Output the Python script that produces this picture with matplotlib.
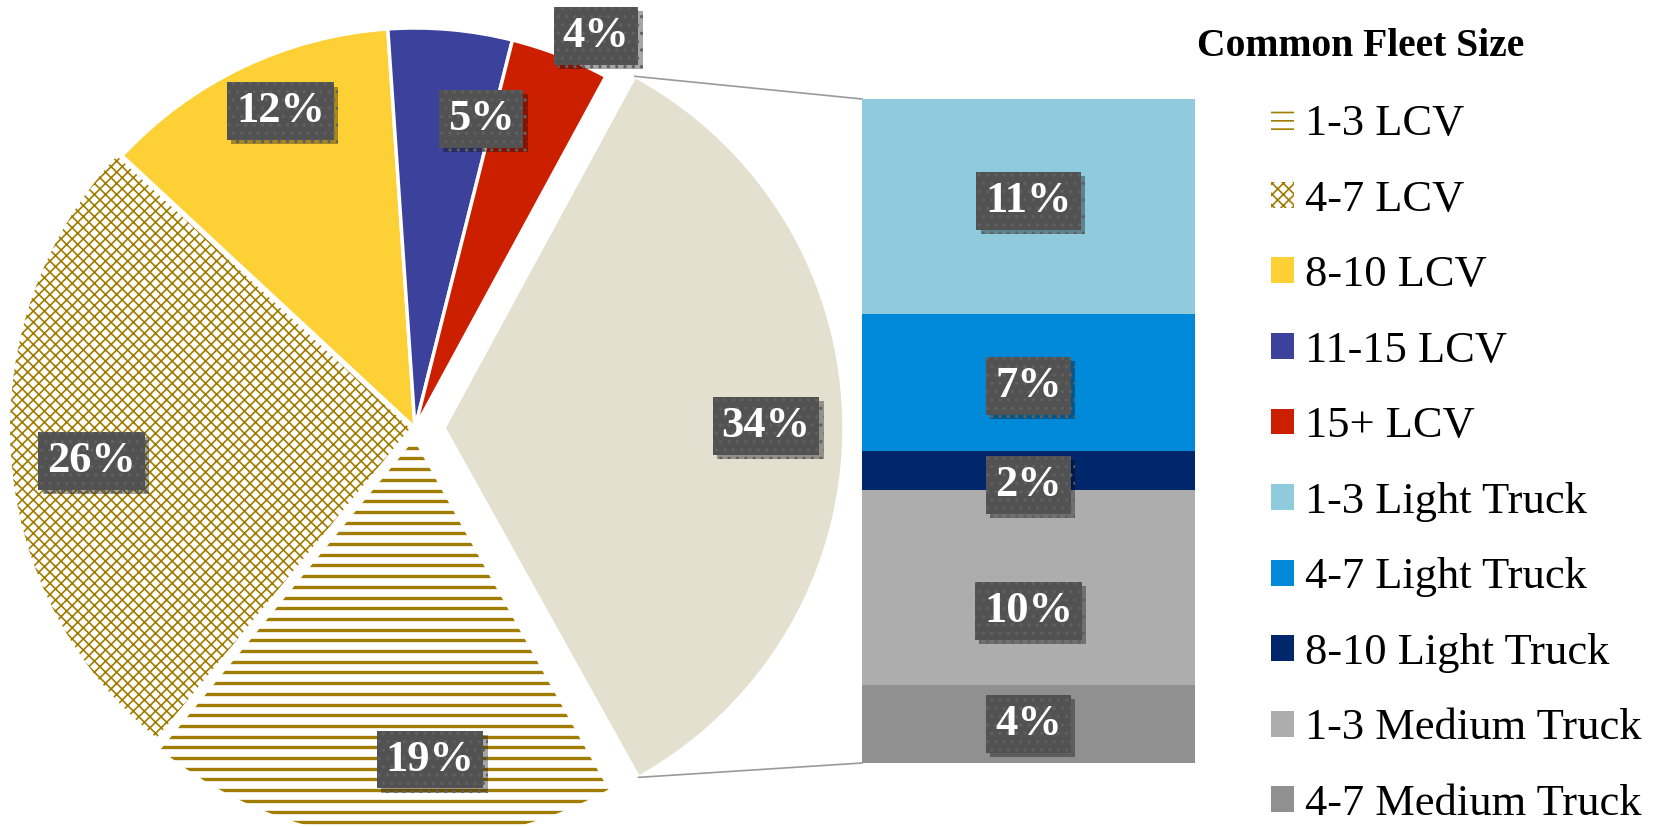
import matplotlib.pyplot as plt
import matplotlib.patheffects as pe
from matplotlib.patches import Patch
import numpy as np

# размер картинки в пикселях
W, H = 1657, 827

plt.rcParams['font.family'] = ['Liberation Serif', 'DejaVu Serif']
plt.rcParams['hatch.linewidth'] = 1.2

# pie part
pie_labels = ['1-3 LCV', '4-7 LCV', '8-10 LCV', '11-15 LCV', '15+ LCV', 'Other']
pie_values = [19, 26, 12, 5, 4, 34]
pie_colors = ['#ffffff', '#ffffff', '#FDD035', '#3C429C', '#CC1F00', '#E3E0D0']

# bar part (split of "Other")
bar_labels = ['1-3 Light Truck', '4-7 Light Truck', '8-10 Light Truck',
              '1-3 Medium Truck', '4-7 Medium Truck']
bar_values = [11, 7, 2, 10, 4]
bar_colors = ['#8FCBDD', '#0089D8', '#00266C', '#ADADAD', '#909090']

OLIVE = '#A07D00'
BOX = '#525252'


def tag(axis, x, y, s):
    """серый прямоугольник с процентами"""
    t = axis.text(x, y, s, ha='center', va='center', color='white',
                  fontsize=32, fontweight='bold', zorder=6, clip_on=False,
                  bbox=dict(boxstyle='square,pad=0.2', facecolor=BOX,
                            edgecolor='#606060', linewidth=0, hatch='..'))
    t.get_bbox_patch().set_path_effects(
        [pe.withSimplePatchShadow(offset=(3, -3), shadow_rgbFace='black', alpha=0.35)])
    return t


fig = plt.figure(figsize=(W / 100, H / 100), dpi=100)
ax = fig.add_axes([0, 0, 1, 1])

wedges, _ = ax.pie(pie_values, colors=pie_colors, startangle=-60.9, counterclock=False,
                   center=(415, 399), radius=400,
                   wedgeprops=dict(edgecolor='white', linewidth=2.5))
ax.set_xlim(0, W)
ax.set_ylim(0, H)
ax.axis('off')

# slightly pulled out slices (px)
offsets = [12, 5, 0, 0, 0, 29]
for w, off in zip(wedges, offsets):
    mid = np.deg2rad((w.theta1 + w.theta2) / 2)
    cx, cy = w.center
    w.set_center((cx + off * np.cos(mid), cy + off * np.sin(mid)))

# 1-3 LCV: horizontal stripes
w0 = wedges[0]
w0.set_edgecolor('white')
ys = np.arange(379.3 % 10.7, H, 10.7)
stripes = ax.hlines(ys, 0, W, colors=OLIVE, linewidth=2.4)
stripes.set_clip_path(w0)

# 4-7 LCV: woven pattern
w1 = wedges[1]
w1.set_edgecolor(OLIVE)
w1.set_linewidth(0)
w1.set_hatch('xxx')

# labels on the pie
label_frac = [0.80, 0.80, 0.86, 0.79, 1.08, 0.805]
label_turn = [8, 2, -2.5, -7, -3.5, 0]
for w, v, f, turn in zip(wedges, pie_values, label_frac, label_turn):
    mid = np.deg2rad((w.theta1 + w.theta2) / 2 + turn)
    cx, cy = w.center
    tag(ax, cx + f * w.r * np.cos(mid), cy + f * w.r * np.sin(mid), f'{v}%')

# stacked bar
ax_bar = fig.add_axes([862 / W, 64 / H, 333 / W, 664 / H])
total = sum(bar_values)
bottoms = total - np.cumsum(bar_values)
ax_bar.bar(0, bar_values, bottom=bottoms, width=1, color=bar_colors, linewidth=0)
ax_bar.set_xlim(-0.5, 0.5)
ax_bar.set_ylim(0, total)
ax_bar.axis('off')

label_shift = [0.28, -0.2, -0.76, -1.2, 0]
for v, b, s in zip(bar_values, bottoms, label_shift):
    tag(ax_bar, 0, b + v / 2 + s, f'{v}%')

# connector lines between "Other" slice and the bar
other = wedges[-1]
cx, cy = other.center
a1, a2 = np.deg2rad(other.theta1), np.deg2rad(other.theta2)
to_main = ax_bar.transAxes + ax.transData.inverted()
top_left = to_main.transform((0, 1))
bottom_left = to_main.transform((0, 0))
ax.plot([cx + other.r * np.cos(a2), top_left[0]], [cy + other.r * np.sin(a2), top_left[1]],
        color='#9a9a9a', linewidth=1.2)
ax.plot([cx + other.r * np.cos(a1), bottom_left[0]], [cy + other.r * np.sin(a1), bottom_left[1]],
        color='#9a9a9a', linewidth=1.2)

# legend
handles = [Patch(facecolor='white', edgecolor=OLIVE, hatch='--', linewidth=0),
           Patch(facecolor='white', edgecolor=OLIVE, hatch='xxx', linewidth=0)]
handles += [Patch(facecolor=c, linewidth=0) for c in pie_colors[2:5]]
handles += [Patch(facecolor=c, linewidth=0) for c in bar_colors]

fig.text(1197 / W, 1 - 46 / H, 'Common Fleet Size', fontsize=28.5, fontweight='bold',
         ha='left', va='center')
fig.legend(handles, pie_labels[:5] + bar_labels, loc='upper left',
           bbox_to_anchor=(1271 / W, (H - 104) / H), frameon=False,
           prop={'family': 'Liberation Serif', 'size': 32},
           handlelength=0.52, handleheight=0.52, handletextpad=0.25,
           labelspacing=0.80, borderpad=0, borderaxespad=0)

fig.savefig('out.png', dpi=100)
